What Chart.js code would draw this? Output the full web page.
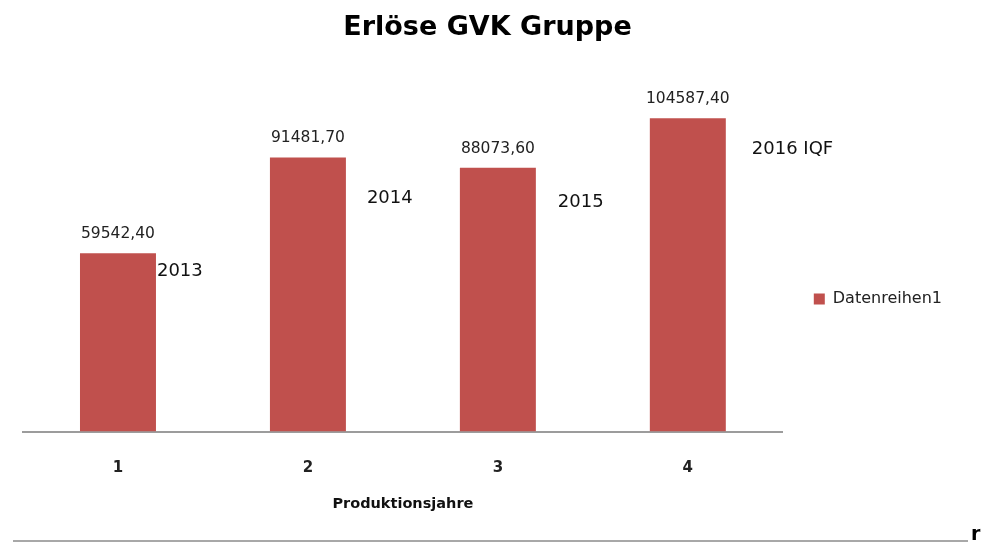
<!DOCTYPE html>
<html>
<head>
<meta charset="utf-8">
<script src="https://cdn.jsdelivr.net/npm/chart.js@4.4.1/dist/chart.umd.min.js"></script>
<style>
  html, body { margin: 0; padding: 0; background: #fff; }
  #wrap { position: relative; width: 981px; height: 543px; overflow: hidden; }
  #rule { position: absolute; left: 13px; top: 540px; width: 955px; height: 2px; background: #a8a8a8; }
  #rchar { position: absolute; left: 971px; top: 522px; font: bold 19px 'DejaVu Sans', sans-serif; color: #000; }
</style>
</head>
<body>
<div id="wrap">
  <canvas id="chart_erloese" width="981" height="543"></canvas>
  <div id="rule"></div>
  <span id="rchar">r</span>
</div>
<script>
var categories = ['1', '2', '3', '4'];
var revenue = [59542.40, 91481.70, 88073.60, 104587.40];
var yearLabels = ['2013', '2014', '2015', '2016 IQF'];

function formatDe(v) {
    return v.toFixed(2).replace('.', ',');
}

var chart_erloese = new Chart(document.getElementById('chart_erloese'), {
    type: 'bar',
    data: {
        labels: categories,
        datasets: [
            {
                label: 'Datenreihen1',
                data: revenue,
                backgroundColor: '#C0504D',
                borderWidth: 0,
                categoryPercentage: 1.0,
                barPercentage: 0.4
            }
        ]
    },
    options: {
        animation: false,
        responsive: false,
        layout: {
            padding: { left: 23, right: 29, top: 0, bottom: 0 }
        },
        plugins: {
            title: {
                display: true,
                text: 'Erlöse GVK Gruppe',
                color: '#000',
                font: { family: 'DejaVu Sans', size: 27, weight: 'bold' },
                padding: { top: 12, bottom: 27.6 }
            },
            legend: {
                display: true,
                position: 'right',
                title: {
                    display: true,
                    text: ' ',
                    font: { size: 10 },
                    padding: { top: 0, bottom: 43 }
                },
                labels: {
                    boxWidth: 11,
                    boxHeight: 11,
                    padding: 31,
                    color: '#222',
                    font: { family: 'DejaVu Sans', size: 16 }
                }
            },
            tooltip: { enabled: false },
            barTexts: {
                valueOffset: -19,
                yearOffsets: [
                    { dx: 1, dy: 18 },
                    { dx: 21, dy: 41 },
                    { dx: 22, dy: 35 },
                    { dx: 26, dy: 31 }
                ]
            }
        },
        scales: {
            x: {
                display: true,
                grid: { display: false, drawTicks: false },
                border: { display: true, color: '#9c9c9c', width: 2 },
                ticks: {
                    padding: 28,
                    color: '#222',
                    font: { family: 'DejaVu Sans', size: 15, weight: 'bold' }
                },
                title: {
                    display: true,
                    text: 'Produktionsjahre',
                    color: '#111',
                    font: { family: 'DejaVu Sans', size: 14.5, weight: 'bold' },
                    padding: { top: -10, bottom: 30 }
                }
            },
            y: {
                display: false,
                min: 0,
                max: 120000
            }
        }
    },
    plugins: [{
        id: 'barTexts',
        afterDatasetsDraw: (chart, args, options) => {
            const ctx = chart.ctx;
            const meta = chart.getDatasetMeta(0);
            ctx.save();
            meta.data.forEach((bar, i) => {
                const props = bar.getProps(['x', 'y', 'width'], true);
                ctx.textBaseline = 'middle';
                ctx.textAlign = 'center';
                ctx.fillStyle = '#222';
                ctx.font = '15.5px "DejaVu Sans"';
                ctx.fillText(formatDe(revenue[i]), props.x, props.y + options.valueOffset);
                const off = options.yearOffsets[i];
                ctx.textAlign = 'left';
                ctx.fillStyle = '#111';
                ctx.font = '18px "DejaVu Sans"';
                ctx.fillText(yearLabels[i], props.x + props.width / 2 + off.dx, props.y + off.dy);
            });
            ctx.restore();
        }
    }, {
        id: 'whiteBg',
        beforeDraw: (chart) => {
            const ctx = chart.canvas.getContext('2d');
            ctx.save();
            ctx.globalCompositeOperation = 'destination-over';
            ctx.fillStyle = 'white';
            ctx.fillRect(0, 0, chart.canvas.width, chart.canvas.height);
            ctx.restore();
        }
    }]
});
</script>
</body>
</html>
